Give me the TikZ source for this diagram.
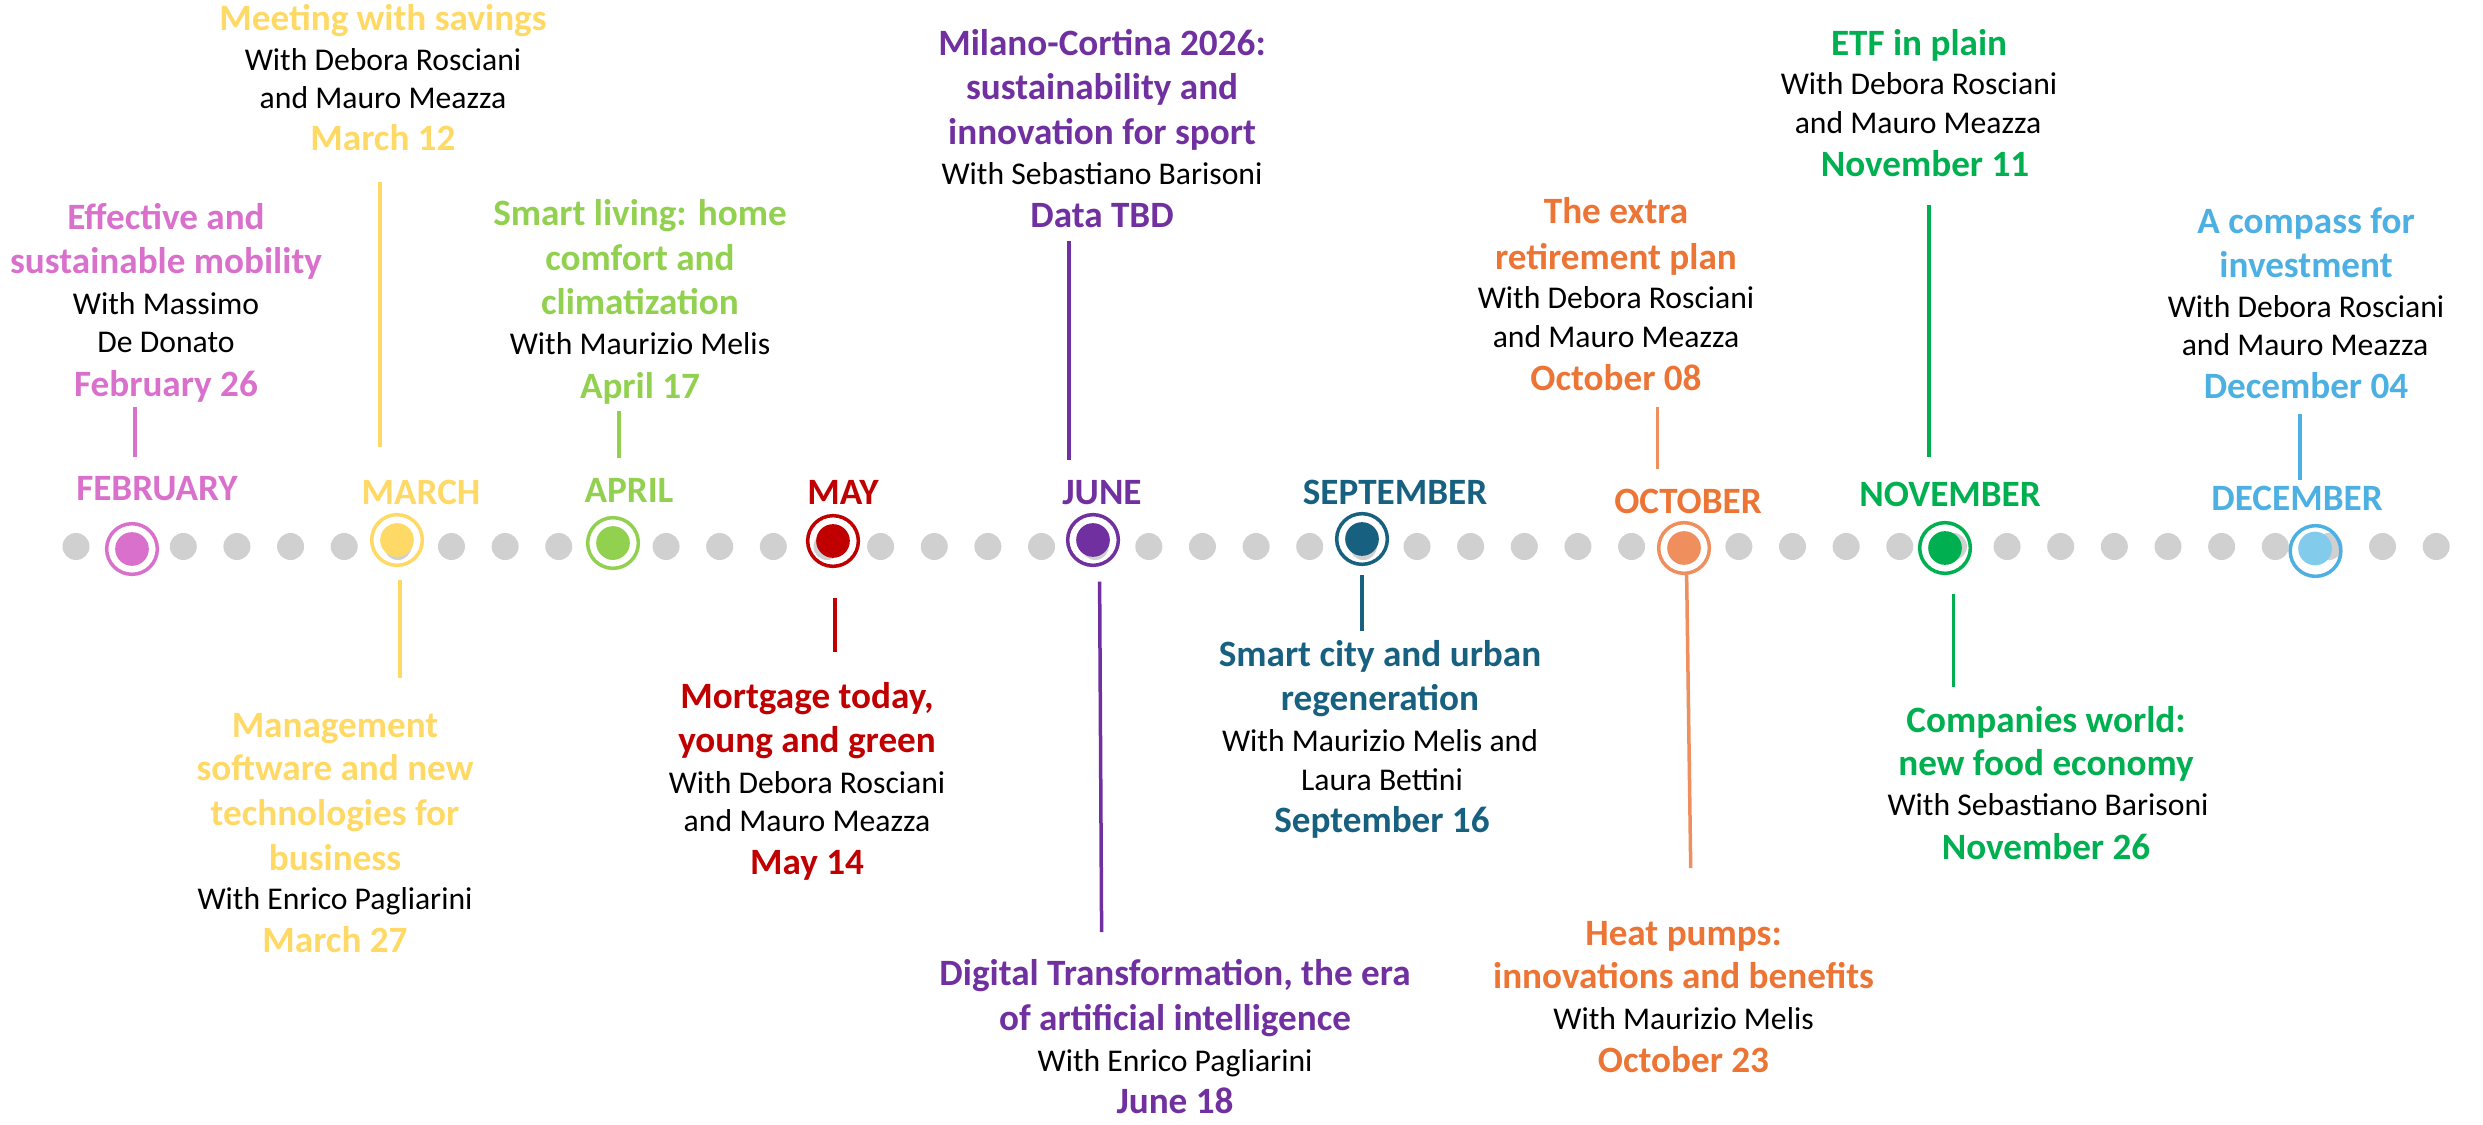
\documentclass[tikz,border=0pt]{standalone}
\usepackage{fontspec}
\setmainfont{Carlito}
\definecolor{febc}{HTML}{D971CC}
\definecolor{marc}{HTML}{FFD966}
\definecolor{aprc}{HTML}{92D050}
\definecolor{mayc}{HTML}{C00000}
\definecolor{junc}{HTML}{7030A0}
\definecolor{sepc}{HTML}{17607F}
\definecolor{octc}{HTML}{EC7434}
\definecolor{octm}{HTML}{EF8F5D}
\definecolor{novc}{HTML}{00B050}
\definecolor{decc}{HTML}{4CB0E2}
\definecolor{decd}{HTML}{83CBEB}
\definecolor{dotc}{HTML}{D0D0D0}
\tikzset{
  tb/.style={anchor=base, inner sep=0pt, font=\fontsize{11.15}{13.4}\selectfont\bfseries},
  tr/.style={anchor=base, inner sep=0pt, text=black, font=\fontsize{9.5}{11.5}\selectfont},
  conn/.style={line width=1.05pt},
  ring/.style={circle, draw, line width=1.05pt, minimum size=15.2pt, inner sep=0pt},
  disc/.style={circle, fill, minimum size=10.1pt, inner sep=0pt},
}
\begin{document}
\begin{tikzpicture}[x=0.3pt,y=-0.3pt]
\useasboundingbox (0,0) rectangle (2483,1125);
% dotted timeline
\foreach \k in {0,...,44}{
  \fill[dotc] ({76+53.64*\k},546.5) circle[radius=4.05pt];
}
% markers
\node[ring,draw=febc] (rfeb) at (132,549) {};
\node[disc,fill=febc] (dfeb) at (132,549) {};
\node[ring,draw=marc] (rmar) at (397,540) {};
\node[disc,fill=marc] (dmar) at (397,540) {};
\node[ring,draw=aprc] (rapr) at (613,543) {};
\node[disc,fill=aprc] (dapr) at (613,543) {};
\node[ring,draw=mayc] (rmay) at (833,541) {};
\node[disc,fill=mayc] (dmay) at (833,541) {};
\node[ring,draw=junc] (rjun) at (1093,540) {};
\node[disc,fill=junc] (djun) at (1093,540) {};
\node[ring,draw=sepc] (rsep) at (1362,539) {};
\node[disc,fill=sepc] (dsep) at (1362,539) {};
\node[ring,draw=octm] (roct) at (1684,548) {};
\node[disc,fill=octm] (doct) at (1684,548) {};
\node[ring,draw=novc] (rnov) at (1945,548) {};
\node[disc,fill=novc] (dnov) at (1945,548) {};
\node[ring,draw=decc] (rdec) at (2315.5,551) {};
\node[disc,fill=decd] (ddec) at (2315,548.5) {};
% month labels
\node[tb,text=febc] (mfeb) at (157,501) {FEBRUARY};
\node[tb,text=marc] (mmar) at (421,504) {MARCH};
\node[tb,text=aprc] (mapr) at (629,502.5) {APRIL};
\node[tb,text=mayc] (mmay) at (843,505) {MAY};
\node[tb,text=junc] (mjun) at (1102,504) {JUNE};
\node[tb,text=sepc] (msep) at (1395,504) {SEPTEMBER};
\node[tb,text=octc] (moct) at (1688,513.5) {OCTOBER};
\node[tb,text=novc] (mnov) at (1950,507) {NOVEMBER};
\node[tb,text=decc] (mdec) at (2297,510) {DECEMBER};
% February
\node[tb,text=febc] (feb1) at (166,230) {Effective and};
\node[tb,text=febc] (feb2) at (166,274) {sustainable mobility};
\node[tr] (feb3) at (166,315) {With Massimo};
\node[tr] (feb4) at (166,353) {De Donato};
\node[tb,text=febc] (feb5) at (166,397) {February 26};
% March top
\node[tb,text=marc] (mar1) at (383,31) {Meeting with savings};
\node[tr] (mar2) at (383,71) {With Debora Rosciani};
\node[tr] (mar3) at (383,109) {and Mauro Meazza};
\node[tb,text=marc] (mar4) at (383,151) {March 12};
% March bottom
\node[tb,text=marc] (marb1) at (335,737) {Management};
\node[tb,text=marc] (marb2) at (335,780.6) {software and new};
\node[tb,text=marc] (marb3) at (335,825) {technologies for};
\node[tb,text=marc] (marb4) at (335,870) {business};
\node[tr] (marb5) at (335,909) {With Enrico Pagliarini};
\node[tb,text=marc] (marb6) at (335,952.5) {March 27};
% April
\node[tb,text=aprc] (apr1) at (640,226) {Smart living: home};
\node[tb,text=aprc] (apr2) at (640,271) {comfort and};
\node[tb,text=aprc] (apr3) at (640,315) {climatization};
\node[tr] (apr4) at (640,355) {With Maurizio Melis};
\node[tb,text=aprc] (apr5) at (640,399) {April 17};
% May
\node[tb,text=mayc] (may1) at (807,708.7) {Mortgage today,};
\node[tb,text=mayc] (may2) at (807,752.6) {young and green};
\node[tr] (may3) at (807,793.4) {With Debora Rosciani};
\node[tr] (may4) at (807,831.6) {and Mauro Meazza};
\node[tb,text=mayc] (may5) at (807,874.5) {May 14};
% June top
\node[tb,text=junc] (jun1) at (1102,55.5) {Milano-Cortina 2026:};
\node[tb,text=junc] (jun2) at (1102,100) {sustainability and};
\node[tb,text=junc] (jun3) at (1102,145) {innovation for sport};
\node[tr] (jun4) at (1102,184.5) {With Sebastiano Barisoni};
\node[tb,text=junc] (jun5) at (1102,228) {Data TBD};
% June bottom
\node[tb,text=junc] (junb1) at (1175,985.7) {Digital Transformation, the era};
\node[tb,text=junc] (junb2) at (1175,1030.6) {of artificial intelligence};
\node[tr] (junb3) at (1175,1071) {With Enrico Pagliarini};
\node[tb,text=junc] (junb4) at (1175,1113) {June 18};
% September
\node[tb,text=sepc] (sep1) at (1380,666.8) {Smart city and urban};
\node[tb,text=sepc] (sep2) at (1380,710) {regeneration};
\node[tr] (sep3) at (1380,751) {With Maurizio Melis and};
\node[tr] (sep4) at (1382,790) {Laura Bettini};
\node[tb,text=sepc] (sep5) at (1382,832.6) {September 16};
% October top
\node[tb,text=octc] (oct1) at (1616,224) {The extra};
\node[tb,text=octc] (oct2) at (1616,270) {retirement plan};
\node[tr] (oct3) at (1616,309) {With Debora Rosciani};
\node[tr] (oct4) at (1616,347.5) {and Mauro Meazza};
\node[tb,text=octc] (oct5) at (1616,391) {October 08};
% October bottom
\node[tb,text=octc] (octb1) at (1683.5,945) {Heat pumps:};
\node[tb,text=octc] (octb2) at (1683.5,988) {innovations and benefits};
\node[tr] (octb3) at (1683.5,1029) {With Maurizio Melis};
\node[tb,text=octc] (octb4) at (1683.5,1072) {October 23};
% November top
\node[tb,text=novc] (nov1) at (1919,55.5) {ETF in plain};
\node[tr] (nov2) at (1919,94.5) {With Debora Rosciani};
\node[tr] (nov3) at (1918,134) {and Mauro Meazza};
\node[tb,text=novc] (nov4) at (1925,177) {November 11};
% November bottom
\node[tb,text=novc] (novb1) at (2046,732) {Companies world:};
\node[tb,text=novc] (novb2) at (2046,775) {new food economy};
\node[tr] (novb3) at (2048,815.8) {With Sebastiano Barisoni};
\node[tb,text=novc] (novb4) at (2046,859) {November 26};
% December
\node[tb,text=decc] (dec1) at (2306,233.5) {A compass for};
\node[tb,text=decc] (dec2) at (2306,277.5) {investment};
\node[tr] (dec3) at (2306,317.6) {With Debora Rosciani};
\node[tr] (dec4) at (2305,356) {and Mauro Meazza};
\node[tb,text=decc] (dec5) at (2306,399) {December 04};
% connector end points
\coordinate (cfa) at (135,407);    \coordinate (cfb) at (135,457);
\coordinate (cma) at (380,182);    \coordinate (cmb) at (380,447);
\coordinate (cmc) at (400,580);    \coordinate (cmd) at (400,678);
\coordinate (caa) at (619,411);    \coordinate (cab) at (619,458);
\coordinate (cya) at (835,598);    \coordinate (cyb) at (835,651.5);
\coordinate (cja) at (1069,241);   \coordinate (cjb) at (1069,460);
\coordinate (cjc) at (1099.6,581.6); \coordinate (cjd) at (1101.6,932);
\coordinate (csa) at (1362,575);   \coordinate (csb) at (1362,631);
\coordinate (coa) at (1657.6,407); \coordinate (cob) at (1657.6,469);
\coordinate (coc) at (1686.6,573.5); \coordinate (cod) at (1690.7,868);
\coordinate (cna) at (1929,205);   \coordinate (cnb) at (1929,456.6);
\coordinate (cnc) at (1953.5,594); \coordinate (cnd) at (1953.5,687);
\coordinate (cda) at (2300,414.5); \coordinate (cdb) at (2300,480);
% connectors
\draw[conn,febc] (cfa) -- (cfb);
\draw[conn,marc] (cma) -- (cmb);
\draw[conn,marc] (cmc) -- (cmd);
\draw[conn,aprc] (caa) -- (cab);
\draw[conn,mayc] (cya) -- (cyb);
\draw[conn,junc] (cja) -- (cjb);
\draw[conn,junc] (cjc) -- (cjd);
\draw[conn,sepc] (csa) -- (csb);
\draw[conn,octm] (coa) -- (cob);
\draw[conn,octm] (coc) -- (cod);
\draw[conn,novc] (cna) -- (cnb);
\draw[conn,novc] (cnc) -- (cnd);
\draw[conn,decc] (cda) -- (cdb);
\end{tikzpicture}
\end{document}
